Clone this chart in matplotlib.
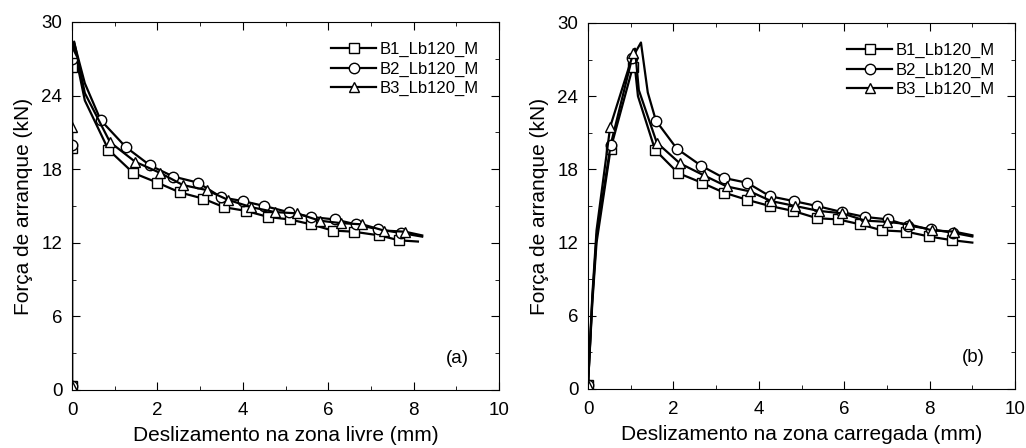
import numpy as np
import matplotlib
matplotlib.use('Agg')
import matplotlib.pyplot as plt
from matplotlib.ticker import MultipleLocator

plt.rcParams['font.family'] = ['Liberation Sans', 'DejaVu Sans']

labels = ['B1_Lb120_M', 'B2_Lb120_M', 'B3_Lb120_M']
markers = ['s', 'o', '^']

# (a) zona livre
a_b1_x = [0, 0, 0, 0.05, 0.3, 0.85, 1.43, 2.0, 2.53, 3.07, 3.56, 4.07, 4.6, 5.1, 5.6, 6.1, 6.6, 7.2, 7.66, 8.1]
a_b1_y = [0.3, 19.7, 26.3, 27.8, 23.6, 19.6, 17.7, 16.9, 16.1, 15.6, 14.9, 14.6, 14.1, 13.9, 13.5, 13.0, 12.9, 12.6, 12.2, 12.1]
a_b2_x = [0, 0, 0, 0.05, 0.3, 0.67, 1.26, 1.83, 2.37, 2.95, 3.5, 4.0, 4.5, 5.07, 5.6, 6.16, 6.65, 7.16, 7.7, 8.2]
a_b2_y = [0.3, 20.0, 27.0, 28.3, 25.0, 22.0, 19.8, 18.3, 17.4, 16.9, 15.7, 15.4, 15.0, 14.5, 14.1, 13.9, 13.5, 13.1, 12.8, 12.5]
a_b3_x = [0, 0, 0, 0.05, 0.3, 0.89, 1.48, 2.06, 2.6, 3.15, 3.65, 4.2, 4.75, 5.27, 5.8, 6.3, 6.8, 7.3, 7.8, 8.2]
a_b3_y = [0.3, 21.4, 27.5, 28.4, 24.2, 20.2, 18.6, 17.7, 16.7, 16.3, 15.5, 14.9, 14.5, 14.4, 13.8, 13.6, 13.5, 13.0, 12.9, 12.6]
a_nomark = [3, 4, 19]   # points drawn by the line only

# (b) zona carregada
b_b1_x = [0, 0.1, 0.2, 0.53, 1.05, 1.08, 1.17, 1.57, 2.11, 2.67, 3.18, 3.73, 4.26, 4.8, 5.36, 5.86, 6.37, 6.89, 7.45, 7.99, 8.52, 9.0]
b_b1_y = [0.3, 7.0, 12.0, 19.7, 26.4, 27.0, 24.0, 19.6, 17.7, 16.9, 16.1, 15.5, 15.0, 14.6, 14.0, 13.9, 13.5, 13.0, 12.9, 12.5, 12.2, 12.0]
b_b2_x = [0, 0.1, 0.2, 0.53, 1.03, 1.24, 1.4, 1.59, 2.08, 2.65, 3.18, 3.73, 4.26, 4.82, 5.36, 5.95, 6.49, 7.03, 7.49, 8.03, 8.55, 9.0]
b_b2_y = [0.3, 7.3, 12.5, 20.0, 27.1, 28.4, 24.3, 22.0, 19.7, 18.3, 17.3, 16.9, 15.8, 15.4, 15.0, 14.5, 14.1, 13.9, 13.4, 13.1, 12.8, 12.5]
b_b3_x = [0, 0.1, 0.2, 0.52, 1.06, 1.1, 1.19, 1.61, 2.15, 2.72, 3.25, 3.79, 4.29, 4.85, 5.4, 5.95, 6.49, 7.0, 7.52, 8.06, 8.57, 9.0]
b_b3_y = [0.3, 7.6, 13.0, 21.5, 27.5, 27.9, 24.5, 20.2, 18.5, 17.5, 16.6, 16.2, 15.4, 15.0, 14.6, 14.4, 13.8, 13.7, 13.5, 13.0, 12.9, 12.6]
b_nomark = [1, 2, 5, 6, 21]


def painel(ax, series, nomark, xlabel, tag):
    for (x, y), lab, m in zip(series, labels, markers):
        idx = [i for i in range(len(x)) if i not in nomark]
        ax.plot(x, y, '-', color='black', lw=1.6, marker=m, markevery=idx,
                ms=7.5, mfc='white', mec='black', mew=1.0, label=lab)
    ax.set_xlim(0, 10)
    ax.set_ylim(0, 30)
    ax.xaxis.set_major_locator(MultipleLocator(2))
    ax.xaxis.set_minor_locator(MultipleLocator(1))
    ax.yaxis.set_major_locator(MultipleLocator(6))
    ax.yaxis.set_minor_locator(MultipleLocator(3))
    ax.tick_params(which='both', direction='in', top=True, right=True,
                   labelsize=13.5, pad=7)
    ax.tick_params(axis='x', which='both', pad=8.5)
    ax.tick_params(which='major', length=6)
    ax.tick_params(which='minor', length=3)
    ax.set_xlabel(xlabel, fontsize=15, labelpad=5)
    ax.set_ylabel('Força de arranque (kN)', fontsize=15, labelpad=6)
    ax.text(9.3, 2.6, tag, fontsize=13.5, ha='right', va='center')
    ax.legend(loc='upper right', frameon=False, fontsize=12, handlelength=2.7,
              handletextpad=0.2, labelspacing=0.26, borderaxespad=0.8)


fig = plt.figure(figsize=(10.26, 4.48), dpi=100)
ax1 = fig.add_axes([0.0702, 0.1295, 0.4162, 0.8215])
ax2 = fig.add_axes([0.5731, 0.1317, 0.4162, 0.8170])

painel(ax1, [(a_b1_x, a_b1_y), (a_b2_x, a_b2_y), (a_b3_x, a_b3_y)], a_nomark,
       'Deslizamento na zona livre (mm)', '(a)')
painel(ax2, [(b_b1_x, b_b1_y), (b_b2_x, b_b2_y), (b_b3_x, b_b3_y)], b_nomark,
       'Deslizamento na zona carregada (mm)', '(b)')

fig.savefig('out.png', dpi=100)
